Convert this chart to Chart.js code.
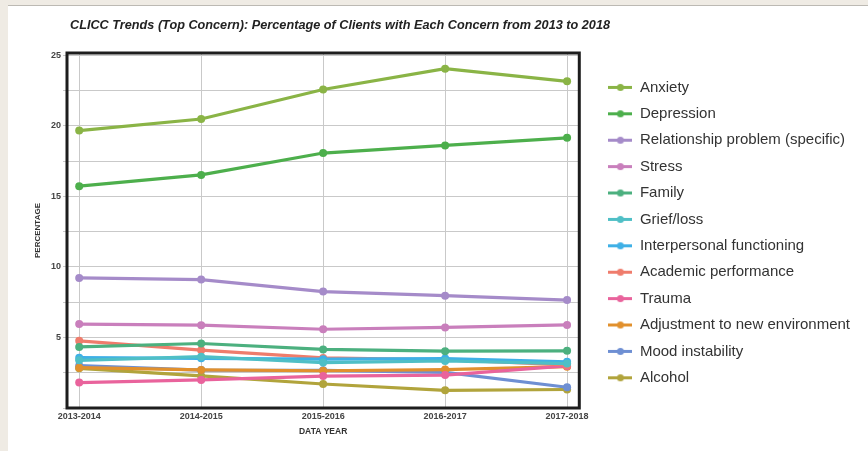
<!DOCTYPE html>
<html lang="en">
<head>
  <meta charset="UTF-8" />
  <title>CLICC Trends (Top Concern)</title>
  <meta name="viewport" content="width=device-width, initial-scale=1.0" />
  <script src="https://cdn.jsdelivr.net/npm/chart.js"></script>
  <style>
    html, body {
      margin: 0;
      padding: 0;
    }
    body {
      width: 868px;
      height: 451px;
      background: #efebe4;
      position: relative;
      overflow: hidden;
    }
    #panel {
      position: absolute;
      left: 8px;
      top: 5px;
      right: 0;
      bottom: 0;
      background: #fff;
      border-top: 1px solid #bcb9b3;
    }
    #grafik {
      position: absolute;
      left: 0;
      top: 0;
    }
  </style>
</head>
<body>
  <div id="panel"></div>
  <canvas id="grafik" width="868" height="451"></canvas>

  <script>
    // data (percent of clients)
    const chartTitle = 'CLICC Trends (Top Concern): Percentage of Clients with Each Concern from 2013 to 2018';
    const years = ['2013-2014', '2014-2015', '2015-2016', '2016-2017', '2017-2018'];
    const yTicks = [0, 2.5, 5, 7.5, 10, 12.5, 15, 17.5, 20, 22.5, 25];

    const anxiety       = [19.66, 20.48, 22.57, 24.05, 23.15];
    const depression    = [15.72, 16.52, 18.07, 18.61, 19.15];
    const relationship  = [9.22, 9.10, 8.25, 7.96, 7.65];
    const stress        = [5.95, 5.87, 5.58, 5.71, 5.89];
    const family        = [4.33, 4.57, 4.15, 4.03, 4.05];
    const grief         = [3.38, 3.64, 3.22, 3.33, 3.15];
    const interpersonal = [3.57, 3.52, 3.46, 3.50, 3.27];
    const academic      = [4.76, 4.10, 3.55, 3.42, 3.05];
    const trauma        = [1.80, 1.99, 2.26, 2.33, 2.98];
    const adjustment    = [2.86, 2.70, 2.64, 2.72, 2.93];
    const mood          = [3.00, 2.69, 2.67, 2.52, 1.47];
    const alcohol       = [2.81, 2.27, 1.70, 1.25, 1.31];

    const series = [
      ['Anxiety', anxiety, '#8ab446'],
      ['Depression', depression, '#4daf4c'],
      ['Relationship problem (specific)', relationship, '#a58bc9'],
      ['Stress', stress, '#c97fbc'],
      ['Family', family, '#4cb07f'],
      ['Grief/loss', grief, '#4fbfc6'],
      ['Interpersonal functioning', interpersonal, '#3fb0e6'],
      ['Academic performance', academic, '#ef7c6c'],
      ['Trauma', trauma, '#e9639c'],
      ['Adjustment to new environment', adjustment, '#e1902d'],
      ['Mood instability', mood, '#6e8fd3'],
      ['Alcohol', alcohol, '#b1a43c']
    ];

    // little line-with-dot icon for the legend
    function legendIcon(color) {
      const c = document.createElement('canvas');
      c.width = 24;
      c.height = 9;
      const g = c.getContext('2d');
      g.strokeStyle = color;
      g.lineWidth = 3;
      g.beginPath();
      g.moveTo(0, 4.5);
      g.lineTo(24, 4.5);
      g.stroke();
      g.fillStyle = color;
      g.beginPath();
      g.arc(12, 4.5, 3.5, 0, Math.PI * 2);
      g.fill();
      return c;
    }
    const icons = series.map(s => legendIcon(s[2]));

    const datasets = series.map(([label, values, color]) => ({
      label,
      data: values.map((v, i) => ({ x: i, y: v })),
      borderColor: color,
      backgroundColor: color,
      borderWidth: 3.2,
      pointRadius: 4,
      pointBorderWidth: 0,
      pointBackgroundColor: color,
      tension: 0
    }));

    // thick black box around the plot area
    const frame = {
      id: 'frame',
      beforeDatasetsDraw(chart) {
        const { ctx, chartArea: a } = chart;
        ctx.save();
        ctx.lineWidth = 3;
        ctx.strokeStyle = '#1d1d1d';
        ctx.strokeRect(a.left, a.top, a.right - a.left, a.bottom - a.top);
        ctx.restore();
      }
    };

    // title sits over the plot box but is wider than it, so draw it here
    const heading = {
      id: 'heading',
      afterDraw(chart) {
        const { ctx, chartArea: a } = chart;
        ctx.save();
        ctx.font = "italic bold 13px 'Liberation Sans', Arial, sans-serif";
        ctx.fillStyle = '#222';
        ctx.textAlign = 'left';
        ctx.textBaseline = 'middle';
        ctx.fillText(chartTitle, a.left + 3, 25, 540);
        ctx.restore();
      }
    };

    const gridColor = '#c9c9c9';
    const axisFont = { family: "'Liberation Sans', Arial, sans-serif", size: 9, weight: 'bold' };

    new Chart(document.getElementById('grafik'), {
      type: 'line',
      data: { datasets },
      plugins: [frame, heading],
      options: {
        responsive: false,
        devicePixelRatio: 1,
        animation: false,
        layout: { padding: { top: 53, right: 8, bottom: 1, left: 33 } },
        scales: {
          x: {
            type: 'linear',
            min: -0.1,
            max: 4.1,
            afterBuildTicks: s => { s.ticks = years.map((_, i) => ({ value: i })); },
            grid: { color: gridColor, drawTicks: false },
            border: { display: false },
            ticks: {
              padding: 3,
              color: '#444',
              font: axisFont,
              maxRotation: 0,
              callback: v => years[v]
            },
            title: {
              display: true,
              text: 'DATA YEAR',
              color: '#333',
              font: { family: "'Liberation Sans', Arial, sans-serif", size: 8.5, weight: 'bold' },
              padding: { top: 2, bottom: 13 }
            }
          },
          y: {
            min: 0,
            max: 25.16,
            afterBuildTicks: s => { s.ticks = yTicks.map(v => ({ value: v })); },
            afterFit: s => { s.width = 34; },
            grid: { color: gridColor, tickLength: 4 },
            border: { display: false },
            ticks: {
              padding: 2,
              color: '#444',
              font: axisFont,
              callback: v => (v > 0 && v % 5 === 0 ? String(v) : '')
            },
            title: {
              display: true,
              text: 'PERCENTAGE',
              color: '#333',
              font: { family: "'Liberation Sans', Arial, sans-serif", size: 8, weight: 'bold' },
              padding: { top: 0, bottom: 0 }
            }
          },
          // empty axis, only keeps a gap between the box and the legend
          gap: {
            position: 'right',
            display: true,
            grid: { display: false },
            ticks: { display: false },
            border: { display: false },
            afterFit: s => { s.width = 17.7; }
          }
        },
        plugins: {
          title: { display: false },
          legend: {
            position: 'right',
            fullSize: false,
            maxWidth: 300,
            // empty title only nudges the list down a little
            title: { display: true, text: '', padding: 0, font: { size: 3.5 } },
            labels: {
              usePointStyle: true,
              pointStyleWidth: 24,
              padding: 11.4,
              color: '#333',
              font: { family: "'Liberation Sans', Arial, sans-serif", size: 15 },
              generateLabels: chart => chart.data.datasets.map((ds, i) => ({
                text: ds.label,
                pointStyle: icons[i],
                fillStyle: ds.borderColor,
                strokeStyle: ds.borderColor,
                lineWidth: 0,
                fontColor: '#333',
                hidden: false,
                datasetIndex: i
              }))
            }
          },
          tooltip: { enabled: false }
        }
      }
    });
  </script>
</body>
</html>
